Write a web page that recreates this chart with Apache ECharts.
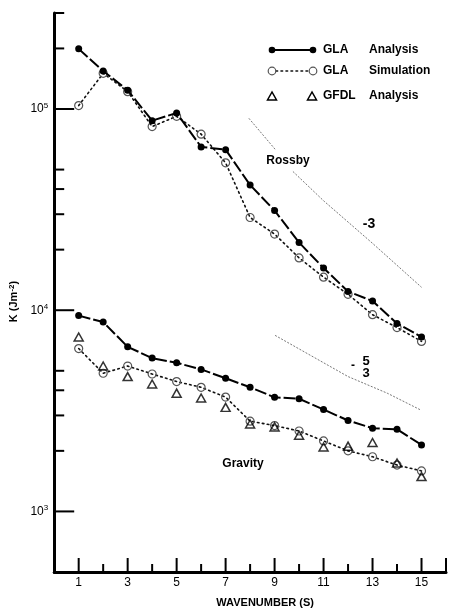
<!DOCTYPE html>
<html>
<head>
<meta charset="utf-8">
<script src="https://cdn.jsdelivr.net/npm/echarts@6/dist/echarts.min.js"></script>
<style>
  html, body { margin: 0; padding: 0; background: #fff; }
  #chart { width: 449px; height: 613px; }
</style>
</head>
<body>
<div id="chart"></div>
<script>
// Kinetic energy spectra K(s) against zonal wavenumber s
const wavenumber = [1, 2, 3, 4, 5, 6, 7, 8, 9, 10, 11, 12, 13, 14, 15];

// Rossby (upper) branch
const rossbyGlaAnalysis   = [199000, 154500, 124000, 87500, 95600, 64800, 62800, 41900, 31300, 21700, 16200, 12400, 11100, 8600, 7360];
const rossbyGlaSimulation = [104000, 150500, 122000, 81800, 92000, 75000, 54000, 28900, 23900, 18200, 14600, 12000, 9500, 8200, 7000];

// Gravity (lower) branch
const gravityGlaAnalysis   = [9400, 8730, 6580, 5780, 5480, 5080, 4590, 4140, 3690, 3630, 3210, 2830, 2590, 2560, 2140];
const gravityGlaSimulation = [6450, 4860, 5280, 4820, 4420, 4140, 3700, 2810, 2670, 2510, 2240, 2000, 1870, 1700, 1590];
const gravityGfdlAnalysis  = [7360, 5280, 4680, 4300, 3870, 3660, 3290, 2720, 2630, 2390, 2090, 2110, 2200, 1740, 1490];

// Reference slopes (s^-3 and s^-5/3), broken where the "Rossby" label sits
const slopeMinus3X = [7.95, 9.02, null, 9.75, 11, 13, 15];
const slopeMinus3Y = [89900, 63100, null, 48900, 35000, 21500, 13000];
const slopeMinus53X = [9.02, 12, 13.6, 14.95];
const slopeMinus53Y = [7500, 4680, 3870, 3200];

// Axis ticks
const xTickLabels = [1, 3, 5, 7, 9, 11, 13, 15];
const xMajorTicks = [1, 3, 5, 7, 9, 11, 13, 15, 16];
const xMinorTicks = [2, 4, 6, 8, 10, 12, 14];
const yMajorTicks = [1e3, 1e4, 1e5];
const yMinorTicks = [2e3, 3e3, 4e3, 5e3, 2e4, 3e4, 4e4, 5e4, 2e5, 3e5];

const FONT = '"Liberation Sans", Arial, Helvetica, sans-serif';

const pairs = (xs, ys) => xs.map((x, i) => (x === null ? null : [x, ys[i]]));
const toPoints = (ys) => wavenumber.map((x, i) => [x, ys[i]]);

const tickData = [
  ...yMajorTicks.map(v => [0, v, 20, 0]),
  ...yMinorTicks.map(v => [0, v, 10, 0]),
  ...xMajorTicks.map(v => [v, 500, 14, 1]),
  ...xMinorTicks.map(v => [v, 500, 8, 1])
];

const analysisLine = { color: '#000', width: 2, type: [12, 3] };
const simulationLine = { color: '#111', width: 1.6, type: [1.6, 3.4], cap: 'round' };

const chart = echarts.init(document.getElementById('chart'));
chart.setOption({
  backgroundColor: '#fff',
  animation: false,
  textStyle: { fontFamily: FONT },
  grid: { left: 54, top: 13, width: 395, height: 564, containLabel: false },
  xAxis: {
    type: 'value', min: 0, max: 16, interval: 1,
    name: 'WAVENUMBER (S)', nameLocation: 'middle', nameGap: 25,
    nameTextStyle: { fontFamily: FONT, fontSize: 11, fontWeight: 'bold', color: '#000', padding: [0, 0, 0, 30] },
    axisLine: { show: true, lineStyle: { color: '#000', width: 3 } },
    axisTick: { show: false },
    splitLine: { show: false },
    axisLabel: {
      margin: 5, fontFamily: FONT, fontSize: 12, color: '#000',
      formatter: v => (xTickLabels.indexOf(v) >= 0 ? String(v) : '')
    }
  },
  yAxis: {
    type: 'log', logBase: 10, min: 500, max: 300000,
    name: 'K (Jm{s|-2})', nameLocation: 'middle', nameRotate: 90, nameGap: 33,
    nameTextStyle: {
      fontFamily: FONT, fontSize: 11, fontWeight: 'bold', color: '#000', padding: [0, 18, 0, 0],
      rich: { s: { fontSize: 8, fontWeight: 'bold', verticalAlign: 'top', padding: [0, 0, 4, 0] } }
    },
    axisLine: { show: true, lineStyle: { color: '#000', width: 3 } },
    axisTick: { show: false },
    splitLine: { show: false },
    minorTick: { show: false },
    axisLabel: {
      margin: 6, color: '#000', showMinLabel: false, showMaxLabel: false,
      formatter: v => {
        const e = Math.log10(v);
        if (Math.abs(e - Math.round(e)) > 1e-6) return '';
        return '{b|10}{s|' + Math.round(e) + '}';
      },
      rich: {
        b: { fontFamily: FONT, fontSize: 12, color: '#000' },
        s: { fontFamily: FONT, fontSize: 8, color: '#000', padding: [0, 0, 7, 0] }
      }
    }
  },
  series: [
    {
      name: 'Rossby GLA Analysis', type: 'line', data: toPoints(rossbyGlaAnalysis),
      symbol: 'circle', symbolSize: 7, itemStyle: { color: '#000' },
      lineStyle: analysisLine, z: 4
    },
    {
      name: 'Rossby GLA Simulation', type: 'line', data: toPoints(rossbyGlaSimulation),
      symbol: 'circle', symbolSize: 8,
      itemStyle: { color: 'rgba(0,0,0,0)', borderColor: '#555', borderWidth: 1.2 },
      lineStyle: simulationLine, z: 3
    },
    {
      name: 'Gravity GLA Analysis', type: 'line', data: toPoints(gravityGlaAnalysis),
      symbol: 'circle', symbolSize: 7, itemStyle: { color: '#000' },
      lineStyle: analysisLine, z: 4
    },
    {
      name: 'Gravity GLA Simulation', type: 'line', data: toPoints(gravityGlaSimulation),
      symbol: 'circle', symbolSize: 8,
      itemStyle: { color: 'rgba(0,0,0,0)', borderColor: '#555', borderWidth: 1.2 },
      lineStyle: simulationLine, z: 3
    },
    {
      name: 'Gravity GFDL Analysis', type: 'scatter', data: toPoints(gravityGfdlAnalysis),
      symbol: 'triangle', symbolSize: [9, 8],
      itemStyle: { color: 'rgba(0,0,0,0)', borderColor: '#000', borderWidth: 1.5 }, z: 5
    },
    {
      name: 'slope -3', type: 'line', data: pairs(slopeMinus3X, slopeMinus3Y),
      symbol: 'none', connectNulls: false,
      lineStyle: { color: '#555', width: 0.8, type: [2, 1.5] }, z: 2
    },
    {
      name: 'slope -5/3', type: 'line', data: pairs(slopeMinus53X, slopeMinus53Y),
      symbol: 'none',
      lineStyle: { color: '#555', width: 0.8, type: [2, 1.5] }, z: 2
    },
    {
      name: 'ticks', type: 'custom', data: tickData, z: 6, silent: true, clip: false,
      renderItem: (params, api) => {
        const p = api.coord([api.value(0), api.value(1)]);
        const len = api.value(2);
        const horizontalAxis = api.value(3) === 1;
        const shape = horizontalAxis
          ? { x1: p[0], y1: p[1], x2: p[0], y2: p[1] - len }
          : { x1: p[0], y1: p[1], x2: p[0] + len, y2: p[1] };
        return { type: 'line', shape, style: { stroke: '#000', lineWidth: 2 } };
      }
    }
  ],
  graphic: [
    // legend
    { type: 'line', shape: { x1: 272, y1: 50, x2: 313, y2: 50 }, style: { stroke: '#000', lineWidth: 2 } },
    { type: 'circle', shape: { cx: 272, cy: 50, r: 3.3 }, style: { fill: '#000' } },
    { type: 'circle', shape: { cx: 313, cy: 50, r: 3.3 }, style: { fill: '#000' } },
    { type: 'text', x: 323, y: 50, style: { text: 'GLA', font: 'bold 12px ' + FONT, fill: '#000', verticalAlign: 'middle' } },
    { type: 'text', x: 369, y: 50, style: { text: 'Analysis', font: 'bold 12px ' + FONT, fill: '#000', verticalAlign: 'middle' } },

    { type: 'line', shape: { x1: 276, y1: 71, x2: 309, y2: 71 }, style: { stroke: '#111', lineWidth: 1.6, lineDash: [1.6, 3.4], lineCap: 'round' } },
    { type: 'circle', shape: { cx: 272, cy: 71, r: 3.8 }, style: { fill: 'none', stroke: '#555', lineWidth: 1.2 } },
    { type: 'circle', shape: { cx: 313, cy: 71, r: 3.8 }, style: { fill: 'none', stroke: '#555', lineWidth: 1.2 } },
    { type: 'text', x: 323, y: 71, style: { text: 'GLA', font: 'bold 12px ' + FONT, fill: '#000', verticalAlign: 'middle' } },
    { type: 'text', x: 369, y: 71, style: { text: 'Simulation', font: 'bold 12px ' + FONT, fill: '#000', verticalAlign: 'middle' } },

    { type: 'polygon', shape: { points: [[272, 92], [267.5, 100], [276.5, 100]] }, style: { fill: 'none', stroke: '#000', lineWidth: 1.5 } },
    { type: 'polygon', shape: { points: [[312, 92], [307.5, 100], [316.5, 100]] }, style: { fill: 'none', stroke: '#000', lineWidth: 1.5 } },
    { type: 'text', x: 323, y: 96, style: { text: 'GFDL', font: 'bold 12px ' + FONT, fill: '#000', verticalAlign: 'middle' } },
    { type: 'text', x: 369, y: 96, style: { text: 'Analysis', font: 'bold 12px ' + FONT, fill: '#000', verticalAlign: 'middle' } },

    // annotations
    { type: 'text', x: 288, y: 161, style: { text: 'Rossby', font: 'bold 12px ' + FONT, fill: '#000', align: 'center', verticalAlign: 'middle' } },
    { type: 'text', x: 369, y: 224, style: { text: '-3', font: 'bold 14px ' + FONT, fill: '#000', align: 'center', verticalAlign: 'middle' } },
    { type: 'text', x: 353, y: 366, style: { text: '-', font: 'bold 12px ' + FONT, fill: '#000', align: 'center', verticalAlign: 'middle' } },
    { type: 'text', x: 366, y: 361, style: { text: '5', font: 'bold 13px ' + FONT, fill: '#000', align: 'center', verticalAlign: 'middle' } },
    { type: 'text', x: 366, y: 373, style: { text: '3', font: 'bold 13px ' + FONT, fill: '#000', align: 'center', verticalAlign: 'middle' } },
    { type: 'text', x: 243, y: 464, style: { text: 'Gravity', font: 'bold 12px ' + FONT, fill: '#000', align: 'center', verticalAlign: 'middle' } }
  ]
});
</script>
</body>
</html>
